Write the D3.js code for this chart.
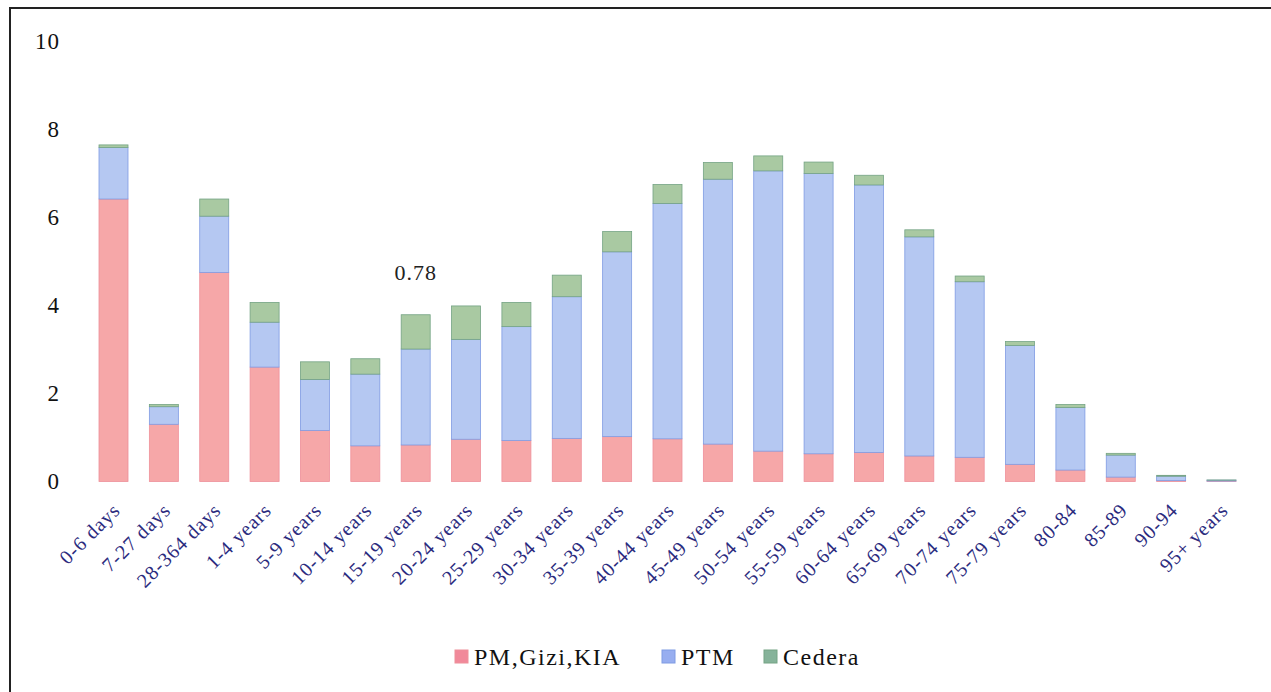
<!DOCTYPE html>
<html>
<head>
<meta charset="utf-8">
<script src="https://cdn.jsdelivr.net/npm/d3@7"></script>
<style>
  body { margin: 0; background: #fff; }
  svg { display: block; }
  svg text { font-family: "Liberation Serif", "Times New Roman", "DejaVu Serif", serif !important; }
</style>
</head>
<body>
<div id="chart"></div>
<script>
// age groups
var categories = ["0-6 days", "7-27 days", "28-364 days", "1-4 years", "5-9 years", "10-14 years",
  "15-19 years", "20-24 years", "25-29 years", "30-34 years", "35-39 years", "40-44 years",
  "45-49 years", "50-54 years", "55-59 years", "60-64 years", "65-69 years", "70-74 years",
  "75-79 years", "80-84", "85-89", "90-94", "95+ years"];

// PM,Gizi,KIA
var pmValues = [6.42, 1.30, 4.75, 2.60, 1.16, 0.81, 0.83, 0.96, 0.93, 0.98, 1.02, 0.97,
  0.85, 0.69, 0.63, 0.66, 0.58, 0.55, 0.39, 0.26, 0.10, 0.02, 0.01];
// PTM
var ptmValues = [1.17, 0.40, 1.28, 1.02, 1.16, 1.63, 2.18, 2.27, 2.59, 3.22, 4.20, 5.35,
  6.02, 6.37, 6.37, 6.08, 4.98, 3.99, 2.70, 1.42, 0.50, 0.10, 0.02];
// Cedera
var cederaValues = [0.06, 0.05, 0.39, 0.45, 0.40, 0.35, 0.78, 0.76, 0.55, 0.49, 0.46, 0.43,
  0.38, 0.34, 0.26, 0.22, 0.16, 0.13, 0.09, 0.07, 0.04, 0.02, 0.005];

var seriesNames = ["PM,Gizi,KIA", "PTM", "Cedera"];
var yTicks = [0, 2, 4, 6, 8, 10];

var fills = ["#f6a7a8", "#b5c8f2", "#a9c9a2"];
var strokes = ["#ee909a", "#7f9be3", "#74a384"];
var swatch = ["#f1899a", "#97aef0", "#86b39a"];

var width = 1271, height = 692;

var svg = d3.select("#chart")
  .append("svg")
  .attr("width", width)
  .attr("height", height);

// frame (left + top edge only)
svg.append("path")
  .attr("d", "M10,692 V8 H1271")
  .attr("fill", "none")
  .attr("stroke", "#222")
  .attr("stroke-width", 2);

var table = categories.map(function(c, i) {
  return {cat: c, "PM,Gizi,KIA": pmValues[i], "PTM": ptmValues[i], "Cedera": cederaValues[i]};
});

var stacked = d3.stack().keys(seriesNames)(table);

var x = d3.scaleBand()
  .domain(categories)
  .range([99, 1236])
  .paddingInner(0.424)
  .paddingOuter(0);

var y = d3.scaleLinear()
  .domain([0, 10])
  .range([481.5, 41.5]);

// Y axis
svg.append("g")
  .attr("transform", "translate(60,0)")
  .call(d3.axisLeft(y).tickValues(yTicks).tickSize(0).tickPadding(0))
  .call(function(g) { g.select(".domain").remove(); })
  .selectAll("text")
  .style("font-size", "23px")
  .style("letter-spacing", "1px")
  .attr("fill", "#111");

// bars
svg.selectAll("g.layer")
  .data(stacked)
  .enter()
  .append("g")
  .attr("class", "layer")
  .attr("fill", function(d, i) { return fills[i]; })
  .attr("stroke", function(d, i) { return strokes[i]; })
  .selectAll("rect")
  .data(function(d) { return d; })
  .enter()
  .append("rect")
  .attr("x", function(d) { return x(d.data.cat); })
  .attr("width", x.bandwidth())
  .attr("y", function(d) { return y(d[1]); })
  .attr("height", function(d) { return Math.max(0, y(d[0]) - y(d[1])); })
  .attr("stroke-width", 0.8);

// X axis
svg.append("g")
  .attr("transform", "translate(0," + y(0) + ")")
  .call(d3.axisBottom(x).tickSize(0).tickPadding(0))
  .call(function(g) { g.select(".domain").remove(); })
  .selectAll("text")
  .style("font-size", "20px")
  .style("letter-spacing", "1px")
  .attr("fill", "#2b2b7e")
  .attr("dy", 0)
  .attr("transform", "translate(8,30)rotate(-45)")
  .style("text-anchor", "end");

// data label on the 15-19 Cedera value
var li = categories.indexOf("15-19 years");
svg.append("text")
  .attr("x", x(categories[li]) + x.bandwidth() / 2)
  .attr("y", y(pmValues[li] + ptmValues[li] + cederaValues[li]) - 35)
  .attr("text-anchor", "middle")
  .style("font-size", "22px")
  .style("letter-spacing", "1px")
  .attr("fill", "#222")
  .text(cederaValues[li].toFixed(2));

// legend
var legendX = [455, 662, 764];
var legend = svg.append("g");
seriesNames.forEach(function(name, i) {
  legend.append("rect")
    .attr("x", legendX[i])
    .attr("y", 650)
    .attr("width", 13)
    .attr("height", 13)
    .attr("fill", swatch[i])
    .attr("stroke", strokes[i]);
  legend.append("text")
    .attr("x", legendX[i] + 19)
    .attr("y", 665)
    .style("font-size", "24px")
    .style("letter-spacing", "1.5px")
    .attr("fill", "#111")
    .text(name);
});
</script>
</body>
</html>
